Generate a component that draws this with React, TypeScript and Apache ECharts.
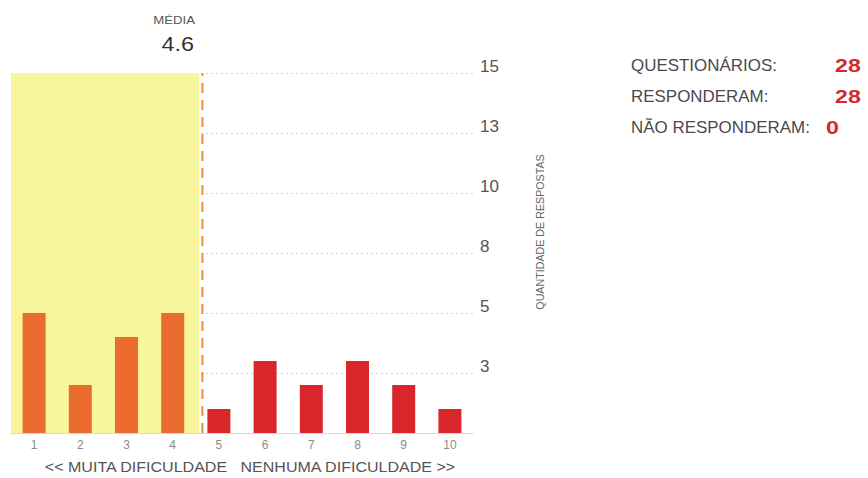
import React, { useEffect, useRef } from "react";
import * as echarts from "echarts";

const categories = ["1", "2", "3", "4", "5", "6", "7", "8", "9", "10"];
const responses = [5, 2, 4, 5, 1, 3, 2, 3, 2, 1];
const yMax = 15;
const yStep = 2.5;
const statLabels = ["QUESTIONÁRIOS:", "RESPONDERAM:", "NÃO RESPONDERAM:"];
const statValues = [28, 28, 0];
const xAxisTitle = "<< MUITA DIFICULDADE   NENHUMA DIFICULDADE >>";
const yAxisTitle = "QUANTIDADE DE RESPOSTAS";
const meanTitle = "MÉDIA";

const FONT = "'Liberation Sans', Arial, Helvetica, sans-serif";

export default function App() {
  const ref = useRef<HTMLDivElement>(null);

  useEffect(() => {
    if (!ref.current) return;
    const chart = echarts.init(ref.current, null, { renderer: "svg" });
    const total = responses.reduce((a, b) => a + b, 0);
    const mean = responses.reduce((a, v, i) => a + v * (i + 1), 0) / total;

    const statGraphics: any[] = [];
    const rowY = [65, 96, 127];
    const valueX = [835, 835, 826];
    statLabels.forEach((lab, i) => {
      statGraphics.push({
        type: "text",
        x: 631,
        y: rowY[i],
        scaleX: 1.06,
        style: {
          text: lab,
          font: `16px ${FONT}`,
          fill: "#4a4a4a",
          textAlign: "left",
          textVerticalAlign: "middle",
        },
      });
      statGraphics.push({
        type: "text",
        x: valueX[i],
        y: rowY[i],
        scaleX: 1.22,
        style: {
          text: String(statValues[i]),
          font: `bold 19px ${FONT}`,
          fill: "#d8262c",
          textAlign: "left",
          textVerticalAlign: "middle",
        },
      });
    });

    chart.setOption({
      animation: false,
      textStyle: { fontFamily: FONT },
      grid: { left: 11, right: 395, top: 73, bottom: 45, containLabel: false },
      xAxis: [
        {
          type: "category",
          data: categories,
          axisLine: { show: true, lineStyle: { color: "#d8d8d8", width: 1 } },
          axisTick: { show: false },
          axisLabel: { color: "#8a8a8a", fontSize: 12, margin: 6 },
          splitLine: { show: false },
        },
        {
          type: "value",
          min: 0.5,
          max: 10.5,
          show: false,
        },
      ],
      yAxis: {
        type: "value",
        position: "right",
        min: 0,
        max: yMax,
        interval: yStep,
        axisLine: { show: false },
        axisTick: { show: false },
        axisLabel: {
          color: "#555",
          fontSize: 17,
          margin: 7,
          verticalAlign: "bottom",
          lineHeight: 13,
          formatter: (v: number) => (v === 0 ? "" : String(Math.round(v))),
        },
        splitLine: {
          show: true,
          lineStyle: { color: "#d2d2d2", type: [2, 3], width: 1.2 },
        },
      },
      series: [
        {
          type: "line",
          xAxisIndex: 1,
          z: 2,
          data: [
            [mean, 0],
            [mean, yMax],
          ],
          symbol: "none",
          lineStyle: { color: "#e8903a", width: 2, type: [10, 7] },
          silent: true,
          markArea: {
            silent: true,
            itemStyle: { color: "#f9f59c" },
            data: [[{ xAxis: 0.5, yAxis: 0 }, { xAxis: mean - 0.07, yAxis: yMax }]],
          },
        },
        {
          type: "bar",
          z: 3,
          barWidth: 23,
          data: responses.map((v, i) => ({
            value: v,
            itemStyle: { color: i + 1 < mean ? "#ec6b2f" : "#d9262b" },
          })),
        },
      ],
      graphic: [
        {
          type: "text",
          x: 195,
          y: 20,
          scaleX: 1.2,
          style: {
            text: meanTitle,
            font: `11px ${FONT}`,
            fill: "#555",
            textAlign: "right",
            textVerticalAlign: "middle",
          },
        },
        {
          type: "text",
          x: 194,
          y: 45,
          scaleX: 1.2,
          style: {
            text: mean.toFixed(1),
            font: `19.5px ${FONT}`,
            fill: "#333",
            textAlign: "right",
            textVerticalAlign: "middle",
          },
        },
        {
          type: "text",
          x: 250,
          y: 467,
          scaleX: 1.07,
          style: {
            text: xAxisTitle,
            font: `15px ${FONT}`,
            fill: "#555",
            textAlign: "center",
            textVerticalAlign: "middle",
          },
        },
        {
          type: "text",
          x: 540,
          y: 232,
          rotation: Math.PI / 2,
          style: {
            text: yAxisTitle,
            font: `10.7px ${FONT}`,
            fill: "#666",
            textAlign: "center",
            textVerticalAlign: "middle",
          },
        },
        ...statGraphics,
      ],
    });
    return () => chart.dispose();
  }, []);

  return (
    <div
      ref={ref}
      style={{ position: "fixed", left: 0, top: 0, width: 868, height: 478, background: "#fff" }}
    />
  );
}
